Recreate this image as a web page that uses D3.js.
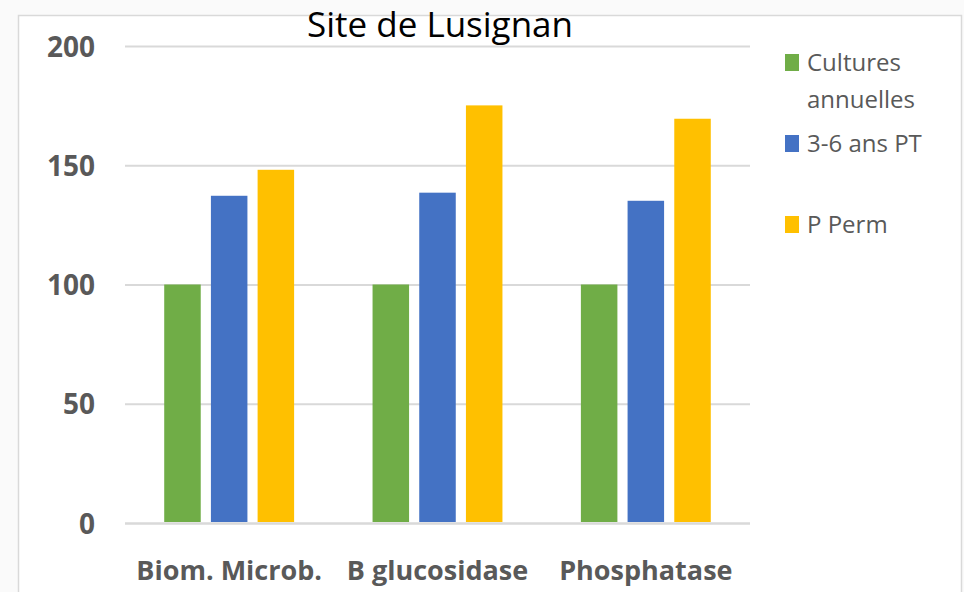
<!DOCTYPE html>
<html>
<head>
<meta charset="utf-8">
<script src="https://cdn.jsdelivr.net/npm/d3@7"></script>
<style>
  html, body { margin: 0; padding: 0; background: #fafafa; }
  svg { display: block; }
</style>
</head>
<body>
<svg id="chart" width="964" height="592"></svg>
<script>
const categories = ["Biom. Microb.", "B glucosidase", "Phosphatase"];
const seriesNames = ["Cultures annuelles", "3-6 ans PT", "P Perm"];
const culturesAnnuelles = [100, 100, 100];
const ansPT = [137.2, 138.5, 135.1];
const pPerm = [148.1, 175.1, 169.5];
const yTicks = [0, 50, 100, 150, 200];
const colors = ["#70AD47", "#4472C4", "#FFC000"];
const title = "Site de Lusignan";

const seriesValues = [culturesAnnuelles, ansPT, pPerm];
const data = categories.map((c, i) => ({
  category: c,
  values: seriesNames.map((s, j) => ({ series: s, value: seriesValues[j][i], color: colors[j] }))
}));

const svg = d3.select("#chart");
const plot = { left: 125, right: 750, top: 46, bottom: 523 };

// chart area with border
svg.append("rect")
  .attr("x", 18.5).attr("y", 15.5)
  .attr("width", 943).attr("height", 600)
  .attr("fill", "#ffffff")
  .attr("stroke", "#d9d9d9").attr("stroke-width", 1.5);

const y = d3.scaleLinear().domain([0, 200]).range([plot.bottom, plot.top]);
const x0 = d3.scaleBand().domain(categories).range([plot.left, plot.right]).padding(0);
const x1 = d3.scaleBand().domain(seriesNames).range([0, x0.bandwidth()])
  .paddingInner(0.218).paddingOuter(0.84);

// y axis with gridlines
const yAxis = svg.append("g")
  .attr("transform", `translate(${plot.left},0)`)
  .call(d3.axisLeft(y).tickValues(yTicks).tickSizeInner(-(plot.right - plot.left)).tickSizeOuter(0).tickPadding(30));
yAxis.select(".domain").remove();
yAxis.selectAll(".tick line")
  .attr("stroke", "#d9d9d9")
  .attr("stroke-width", d => d === 0 ? 2.5 : 2);
yAxis.selectAll(".tick text")
  .attr("fill", "#595959")
  .attr("font-family", "'Open Sans', sans-serif")
  .attr("font-weight", "bold")
  .attr("font-size", 28)
  .attr("dy", "0.36em");

// bars
const groups = svg.append("g").selectAll("g")
  .data(data).join("g")
  .attr("transform", d => `translate(${x0(d.category)},0)`);
groups.selectAll("rect")
  .data(d => d.values).join("rect")
  .attr("x", d => x1(d.series))
  .attr("width", x1.bandwidth())
  .attr("y", d => y(d.value))
  .attr("height", d => y(0) - y(d.value) - 1)
  .attr("fill", d => d.color);

// x axis labels
const xAxis = svg.append("g")
  .attr("transform", `translate(0,${plot.bottom})`)
  .call(d3.axisBottom(x0).tickSize(0).tickPadding(0));
xAxis.select(".domain").remove();
xAxis.selectAll(".tick text")
  .attr("fill", "#595959")
  .attr("font-family", "'Open Sans', sans-serif")
  .attr("font-weight", "bold")
  .attr("font-size", 27)
  .attr("dy", 0)
  .attr("y", 57);

// title
svg.append("text")
  .attr("x", 440).attr("y", 37)
  .attr("text-anchor", "middle")
  .attr("font-family", "'Open Sans', sans-serif")
  .attr("font-size", 35)
  .attr("fill", "#000000")
  .text(title);

// legend
const legendItems = [
  { lines: ["Cultures", "annuelles"], color: colors[0], sqY: 54, baseY: 71 },
  { lines: ["3-6 ans PT"], color: colors[1], sqY: 135, baseY: 152 },
  { lines: ["P Perm"], color: colors[2], sqY: 216, baseY: 233 }
];
const legend = svg.append("g");
legendItems.forEach(item => {
  legend.append("rect")
    .attr("x", 785).attr("y", item.sqY)
    .attr("width", 14).attr("height", 17)
    .attr("fill", item.color);
  const t = legend.append("text")
    .attr("x", 807).attr("y", item.baseY)
    .attr("font-family", "'Open Sans', sans-serif")
    .attr("font-size", 24)
    .attr("fill", "#595959");
  item.lines.forEach((ln, i) => {
    t.append("tspan").attr("x", 807).attr("y", item.baseY + i * 37).text(ln);
  });
});
</script>
</body>
</html>
